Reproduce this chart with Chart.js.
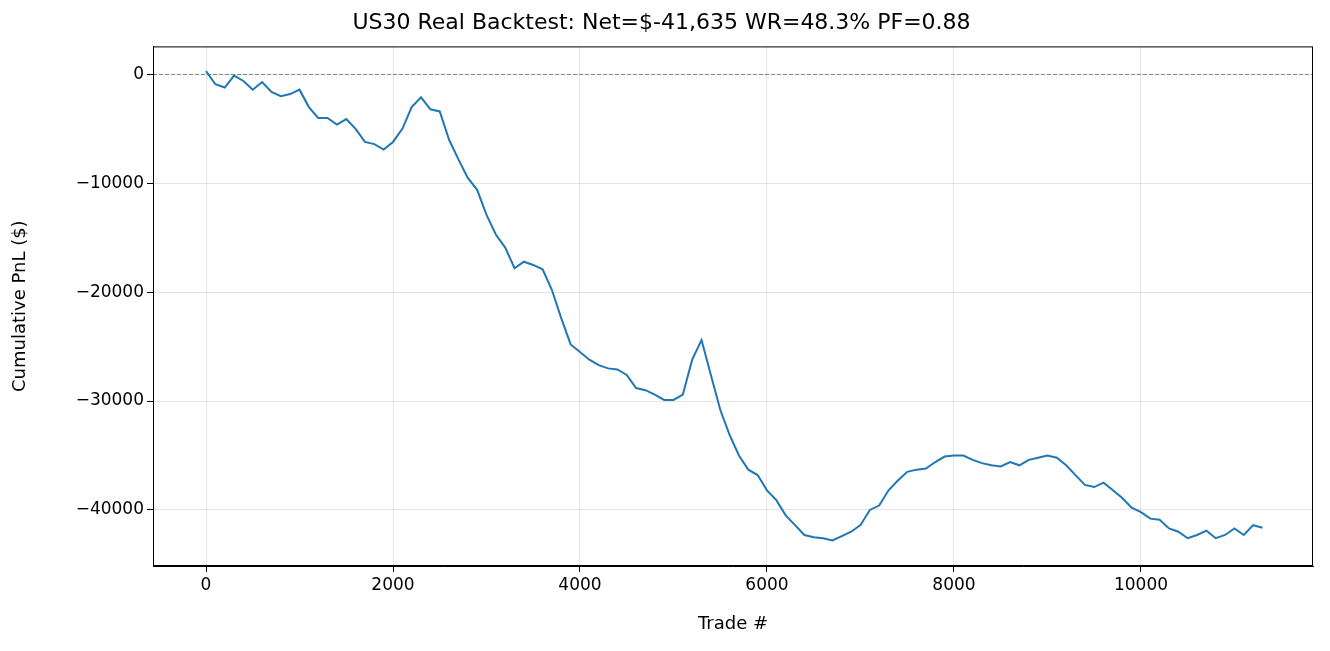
<!DOCTYPE html>
<html>
<head>
<meta charset="utf-8">
<script src="https://cdn.jsdelivr.net/npm/chart.js@4/dist/chart.umd.min.js"></script>
<style>body{margin:0;background:#fff}</style>
</head>
<body>
<canvas id="c" width="1330" height="651"></canvas>
<script>
// trade number (every 100 trades) and cumulative PnL
const trades = [];
for (let t = 0; t <= 11300; t += 100) trades.push(t);
const pnl = [300, -900, -1200, -100, -600, -1400, -700, -1600, -2000, -1800,
  -1400, -3000, -4000, -4000, -4600, -4100, -5000, -6200, -6400, -6900,
  -6200, -5000, -3000, -2100, -3200, -3400, -6000, -7800, -9500, -10600,
  -12900, -14700, -15900, -17800, -17200, -17500, -17900, -19800, -22400, -24800,
  -25500, -26200, -26700, -27000, -27100, -27600, -28800, -29000, -29400, -29900,
  -29900, -29400, -26200, -24400, -27600, -30800, -33100, -35000, -36300, -36800,
  -38200, -39100, -40500, -41400, -42300, -42500, -42600, -42800, -42400, -42000,
  -41400, -40000, -39600, -38200, -37300, -36500, -36300, -36200, -35600, -35100,
  -35000, -35000, -35400, -35700, -35900, -36000, -35600, -35900, -35400, -35200,
  -35000, -35200, -35900, -36800, -37700, -37900, -37500, -38200, -38900, -39800,
  -40200, -40800, -40900, -41700, -42000, -42600, -42300, -41900, -42600, -42300,
  -41700, -42300, -41400, -41635];
const xTicks = [0, 2000, 4000, 6000, 8000, 10000];
const yTicks = [0, -10000, -20000, -30000, -40000];
const xMin = -567, xMax = 11840, yMin = -45150, yMax = 2575;

const fmt = v => (v < 0 ? '\u2212' + Math.abs(v) : String(v));

const boxPlugin = {
  id: 'box',
  afterDraw(chart) {
    const a = chart.chartArea, ctx = chart.ctx;
    ctx.save();
    ctx.strokeStyle = '#000';
    ctx.lineWidth = 1;
    ctx.strokeRect(a.left + 0.5, a.top + 0.5, a.right - a.left - 1, a.bottom - a.top - 1);
    ctx.restore();
  }
};

new Chart(document.getElementById('c'), {
  type: 'line',
  data: {
    datasets: [{
      data: trades.map((t, i) => ({ x: t, y: pnl[i] })),
      borderColor: '#1f77b4',
      borderWidth: 2,
      pointRadius: 0,
      tension: 0
    }, {
      data: [{ x: xMin, y: 0 }, { x: xMax, y: 0 }],
      borderColor: '#808080',
      borderWidth: 1,
      borderDash: [4, 2],
      pointRadius: 0
    }]
  },
  options: {
    responsive: false,
    animation: false,
    layout: { padding: { right: 17, left: 10, top: 0, bottom: 16 } },
    plugins: {
      legend: { display: false },
      tooltip: { enabled: false },
      title: {
        display: true,
        text: 'US30 Real Backtest: Net=$-41,635 WR=48.3% PF=0.88',
        color: '#000',
        font: { family: 'DejaVu Sans', size: 22, weight: 'normal' },
        padding: { top: 10, bottom: 10 }
      }
    },
    scales: {
      x: {
        type: 'linear',
        min: xMin, max: xMax,
        afterBuildTicks: s => { s.ticks = xTicks.map(v => ({ value: v })); },
        afterFit: s => { s.height = 69; },
        ticks: { color: '#000', font: { family: 'DejaVu Sans', size: 17 }, callback: fmt, maxRotation: 0 },
        grid: { color: 'rgba(0,0,0,0.1)', tickColor: '#000', tickLength: 6 },
        border: { color: '#000' },
        title: { display: true, text: 'Trade #', color: '#000', font: { family: 'DejaVu Sans', size: 18 }, padding: 0 }
      },
      y: {
        min: yMin, max: yMax,
        afterBuildTicks: s => { s.ticks = yTicks.map(v => ({ value: v })); },
        afterFit: s => { s.width = 143; },
        ticks: { color: '#000', font: { family: 'DejaVu Sans', size: 17 }, callback: fmt },
        grid: { color: 'rgba(0,0,0,0.1)', tickColor: '#000', tickLength: 6 },
        border: { color: '#000' },
        title: { display: true, text: 'Cumulative PnL ($)', color: '#000', font: { family: 'DejaVu Sans', size: 18 }, padding: 0 }
      }
    }
  },
  plugins: [boxPlugin]
});
</script>
</body>
</html>
